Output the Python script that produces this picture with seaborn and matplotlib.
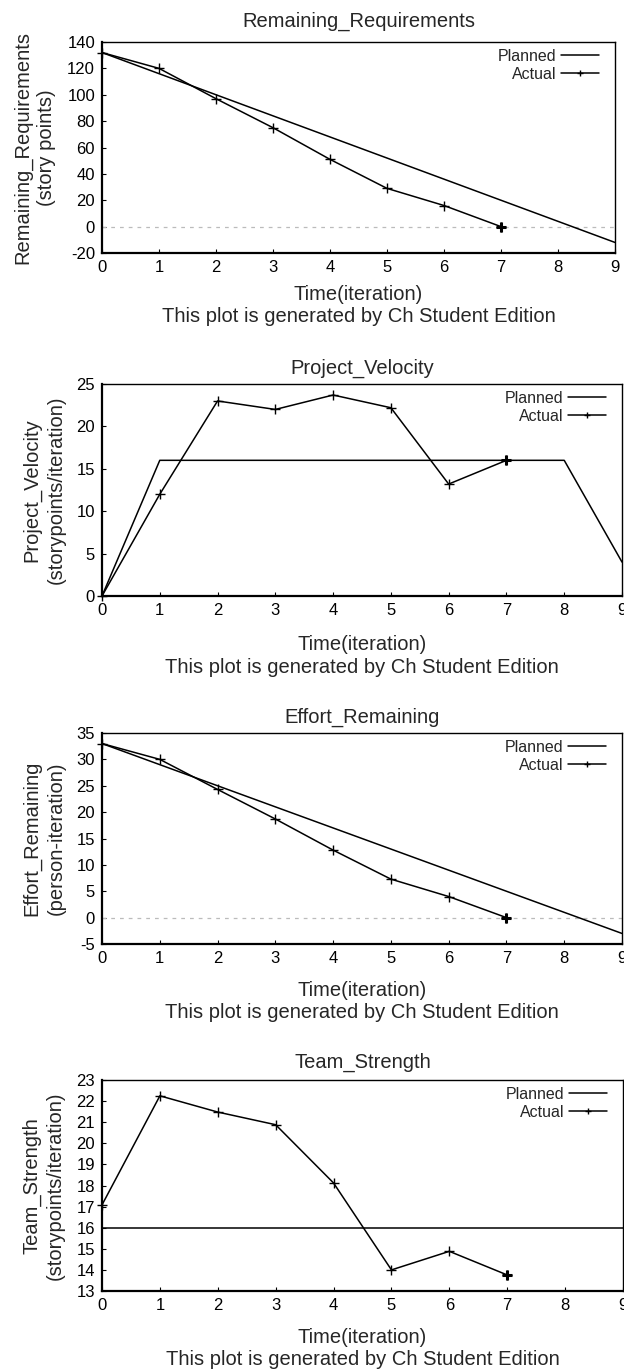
import numpy as np
import pandas as pd
import matplotlib
matplotlib.use('Agg')
import matplotlib.pyplot as plt
import seaborn as sns

# ── data ───────────────────────────────────────────────────────────────────
iterations = [0, 1, 2, 3, 4, 5, 6, 7, 8, 9]
actual_iterations = [0, 1, 2, 3, 4, 5, 6, 7]

rr_planned = [132, 116, 100, 84, 68, 52, 36, 20, 4, -12]
rr_actual = [132, 120, 97, 75, 51, 29, 16, 0]

pv_planned = [0, 16, 16, 16, 16, 16, 16, 16, 16, 4]
pv_actual = [0, 12, 23, 22, 23.7, 22.2, 13.2, 16]

er_planned = [33, 29, 25, 21, 17, 13, 9, 5, 1, -3]
er_actual = [33, 30, 24.3, 18.7, 12.8, 7.3, 4.0, 0]

ts_planned = [16, 16, 16, 16, 16, 16, 16, 16, 16, 16]
ts_actual = [17.08, 22.25, 21.48, 20.88, 18.12, 14.0, 14.88, 13.76]

titles = ['Remaining_Requirements', 'Project_Velocity', 'Effort_Remaining', 'Team_Strength']
ylabels = ['Remaining_Requirements\n(story points)',
           'Project_Velocity\n(storypoints/iteration)',
           'Effort_Remaining\n(person-iteration)',
           'Team_Strength\n(storypoints/iteration)']
ylims = [(-20, 140), (0, 25), (-5, 35), (13, 23)]
ystep = [20, 5, 5, 1]
xlabel = 'Time(iteration)\nThis plot is generated by Ch Student Edition'

planned_all = [rr_planned, pv_planned, er_planned, ts_planned]
actual_all = [rr_actual, pv_actual, er_actual, ts_actual]

# ── style ──────────────────────────────────────────────────────────────────
sns.set_style('white')
plt.rcParams['font.family'] = ['Liberation Sans', 'DejaVu Sans']
plt.rcParams['axes.unicode_minus'] = False

W, H = 624, 1369
fig = plt.figure(figsize=(W / 100, H / 100), dpi=100)

# axes boxes in pixels: left, right, top, bottom
boxes = [(102, 615, 42, 253), (102, 622, 384, 596),
         (102, 622, 733, 944), (102, 623, 1080, 1291)]
title_pad = [11, 7.5, 7.5, 9]
xlabel_pad = [7, 12.5, 10.5, 10.5]

for i in range(4):
    l, r, t, b = boxes[i]
    ax = fig.add_axes([l / W, 1 - b / H, (r - l) / W, (b - t) / H])

    planned = pd.DataFrame({'x': iterations, 'y': planned_all[i]})
    actual = pd.DataFrame({'x': actual_iterations, 'y': actual_all[i]})

    ymin, ymax = ylims[i]
    if ymin < 0:
        ax.axhline(0, color='#bbbbbb', lw=0.9, ls=(0, (3, 4)), zorder=1)

    sns.lineplot(data=planned, x='x', y='y', ax=ax, color='black', lw=1.1,
                 label='Planned')
    sns.lineplot(data=actual, x='x', y='y', ax=ax, color='black', lw=1.1,
                 marker='+', markersize=6.5, markeredgewidth=1.0,
                 markeredgecolor='black', label='Actual', clip_on=False)
    # last point drawn heavier, as in the original
    sns.lineplot(data=actual.tail(1), x='x', y='y', ax=ax, color='black',
                 marker='+', markersize=7, markeredgewidth=2.2,
                 markeredgecolor='black', legend=False, clip_on=False)

    ax.set_xlim(0, 9)
    ax.set_ylim(ymin, ymax)
    ax.set_xticks(iterations)
    ax.set_yticks(np.arange(ymin, ymax + ystep[i] / 2, ystep[i]))
    ax.tick_params(direction='in', length=3, width=0.8, labelsize=12,
                   pad=5, colors='black', top=False, right=False,
                   bottom=True, left=True)
    ax.tick_params(axis='x', pad=5)

    for side in ['left', 'bottom']:
        ax.spines[side].set_linewidth(1.6)
    for side in ['top', 'right']:
        ax.spines[side].set_linewidth(1.0)
    for sp in ax.spines.values():
        sp.set_color('black')

    ax.set_title(titles[i], fontsize=14.5, pad=title_pad[i])
    ax.set_ylabel(ylabels[i], fontsize=14.5, labelpad=8, linespacing=1.3)
    ax.set_xlabel(xlabel, fontsize=14.5, labelpad=xlabel_pad[i], linespacing=1.25)

    leg = ax.legend(loc='upper right', bbox_to_anchor=(0.988, 1.014),
                    frameon=False, markerfirst=False,
                    fontsize=11.5, handlelength=2.4, handletextpad=0.3,
                    borderaxespad=0.2, labelspacing=0.2)
    for h in leg.legend_handles:
        h.set_markersize(5)

fig.savefig('out.png', dpi=100)
